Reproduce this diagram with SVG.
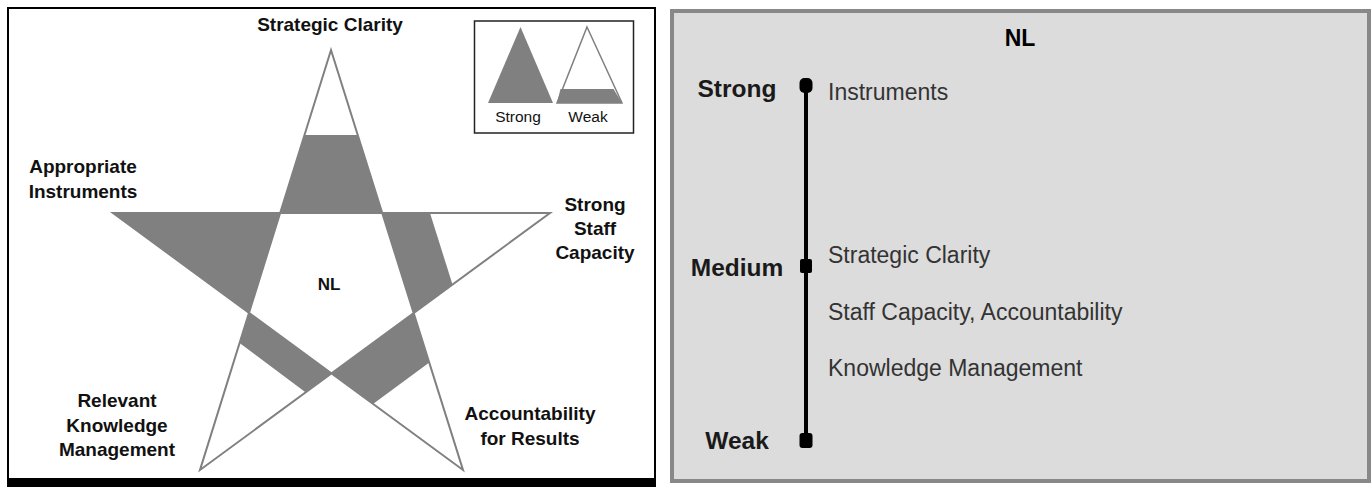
<svg xmlns="http://www.w3.org/2000/svg" width="1372" height="487" viewBox="0 0 1372 487">
<style>
.lbl{font-family:"Liberation Sans",Arial,sans-serif;font-weight:bold;font-size:19px;fill:#111;text-anchor:middle}
.leg{font-family:"Liberation Sans",Arial,sans-serif;font-size:15.5px;fill:#111;text-anchor:middle}
.shade{fill:#808080;stroke:none}
.outline{fill:none;stroke:#808080;stroke-width:2;stroke-linejoin:miter}
.lvl{font-family:"Liberation Sans",Arial,sans-serif;font-weight:bold;font-size:24.5px;fill:#1a1a1a;text-anchor:middle}
.item{font-family:"Liberation Sans",Arial,sans-serif;font-size:23px;fill:#333}
.mark{fill:#000}
</style>
<rect x="0" y="0" width="1372" height="487" fill="#fff"/>
<g id="left-panel">
  <rect x="8" y="8" width="647" height="474" fill="#fff" stroke="#000" stroke-width="2"/>
  <rect x="7" y="478" width="649" height="9" fill="#000"/>
</g>
<g id="star">
  <polygon class="shade" points="304.5,135 357.7,135 382.2,213 280.2,213"/>
  <polygon class="shade" points="113,213 280.2,213 249,312.9"/>
  <polygon class="shade" points="382.2,213 430,213 452.5,284.6 413.7,313.1"/>
  <polygon class="shade" points="413.7,313.1 429.3,362.6 373,403.9 331.5,373.4"/>
  <polygon class="shade" points="249,312.9 331.5,373.4 305.8,392.4 239.6,343"/>
  <path class="outline" d="M331,50 L463,470 L113,213 L550,213 L200,470 Z"/>
  <text x="329" y="290" class="lbl" style="font-size:17px">NL</text>
</g>
<g id="label-strategic"><text x="330" y="31" class="lbl">Strategic Clarity</text></g>
<g id="label-instruments"><text class="lbl"><tspan x="83" y="173">Appropriate</tspan><tspan x="83" y="198">Instruments</tspan></text></g>
<g id="label-staff"><text class="lbl"><tspan x="595" y="211">Strong</tspan><tspan x="595" y="235">Staff</tspan><tspan x="595" y="259">Capacity</tspan></text></g>
<g id="label-accountability"><text class="lbl"><tspan x="530" y="420">Accountability</tspan><tspan x="530" y="445">for Results</tspan></text></g>
<g id="label-knowledge"><text class="lbl"><tspan x="117" y="407">Relevant</tspan><tspan x="117" y="432">Knowledge</tspan><tspan x="117" y="456">Management</tspan></text></g>
<g id="legend">
  <rect x="474.5" y="21" width="159" height="112" fill="#fff" stroke="#222" stroke-width="1.5"/>
  <polygon class="shade" points="520.5,27 553,103 488,103"/>
  <polygon points="587,27 622,103 557,103" fill="#fff" stroke="#808080" stroke-width="1.5"/>
  <polygon class="shade" points="560.5,89 613.5,89 622,103 557,103"/>
  <text x="518" y="122" class="leg">Strong</text>
  <text x="588" y="122" class="leg">Weak</text>
</g>
<g id="right-panel">
  <rect x="672" y="11" width="697" height="470" fill="#dcdcdc" stroke="#888" stroke-width="4"/>
  <text x="1020" y="46" class="lvl" style="font-size:23px;fill:#000">NL</text>
</g>
<g id="connectors">
  <line x1="806" y1="85" x2="806" y2="441" stroke="#000" stroke-width="4"/>
</g>
<g id="level-strong">
  <rect class="mark" x="799.5" y="78" width="13" height="15" rx="5"/>
  <text x="737" y="97" class="lvl">Strong</text>
</g>
<g id="level-medium">
  <rect class="mark" x="800" y="259" width="12" height="14" rx="2"/>
  <text x="737" y="276" class="lvl">Medium</text>
</g>
<g id="level-weak">
  <rect class="mark" x="799.5" y="433" width="13" height="15" rx="3"/>
  <text x="737" y="449" class="lvl">Weak</text>
</g>
<g id="items">
  <text x="828" y="100" class="item">Instruments</text>
  <text x="828" y="263" class="item">Strategic Clarity</text>
  <text x="828" y="320" class="item">Staff Capacity, Accountability</text>
  <text x="828" y="376" class="item">Knowledge Management</text>
</g>
</svg>
